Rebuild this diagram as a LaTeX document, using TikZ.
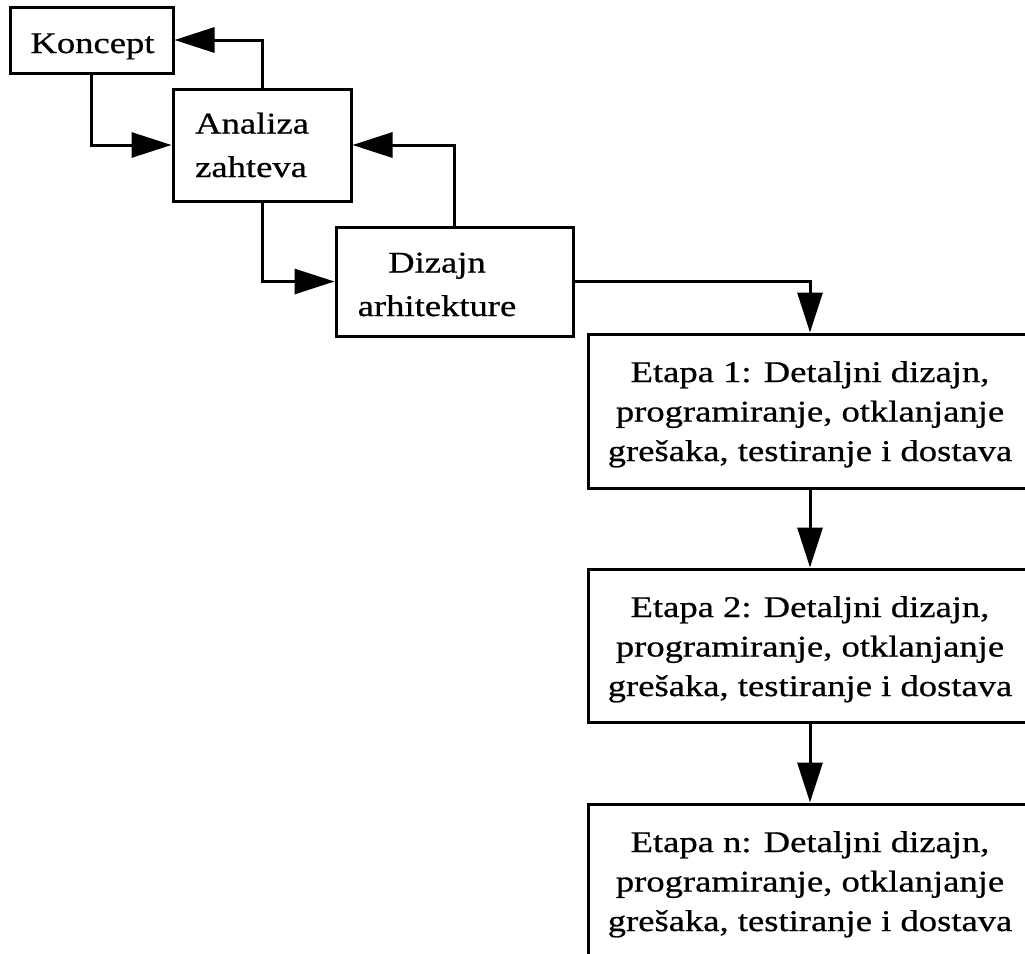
\documentclass[tikz,border=0pt]{standalone}
\usepackage{fontspec}
\setmainfont{Liberation Serif}[FakeStretch=1.22, FakeBold=0.7]
\usetikzlibrary{arrows.meta}

\tikzset{
  box/.style={draw, line width=3pt, rectangle, inner sep=0pt, line join=miter},
  lbl/.style={inner sep=0pt, font=\fontsize{30}{43.5}\selectfont},
  stagelbl/.style={inner sep=0pt, align=center, font=\fontsize{30}{39.5}\selectfont},
  arr/.style={line width=3pt, line join=miter, -{Triangle[length=40pt,width=25pt]}},
}

\begin{document}
\begin{tikzpicture}[x=1pt, y=-1pt]
  \useasboundingbox (0,0) rectangle (1025,953);

  % boxes
  \node[box, minimum width=163pt, minimum height=66pt]  (koncept) at (91.5,40) {};
  \node[box, minimum width=178pt, minimum height=112pt] (analiza) at (262,145) {};
  \node[box, minimum width=237pt, minimum height=109pt] (dizajn)  at (454.5,281.5) {};
  \node[box, minimum width=444pt, minimum height=154pt] (etapa1)  at (810,411) {};
  \node[box, minimum width=444pt, minimum height=153pt] (etapa2)  at (810,645.5) {};
  \node[box, minimum width=444pt, minimum height=154pt] (etapaN)  at (810,881) {};

  % labels (base anchor = baseline of the last line)
  \node[lbl, anchor=base] (tKoncept) at (92.5,53) {Koncept};
  \node[lbl, anchor=base west, align=left] (tAnaliza) at (195,177) {Analiza\\zahteva};
  \node[lbl, anchor=base, align=center] (tDizajn) at (437,316) {Dizajn\\arhitekture};
  \node[stagelbl, anchor=base] (tEtapa1) at (810,461)
    {Etapa 1: Detaljni dizajn,\\programiranje, otklanjanje\\grešaka, testiranje i dostava};
  \node[stagelbl, anchor=base] (tEtapa2) at (810,696)
    {Etapa 2: Detaljni dizajn,\\programiranje, otklanjanje\\grešaka, testiranje i dostava};
  \node[stagelbl, anchor=base] (tEtapaN) at (810,931)
    {Etapa n: Detaljni dizajn,\\programiranje, otklanjanje\\grešaka, testiranje i dostava};

  % connectors
  \draw[arr] (koncept.south) |- (analiza.west);
  \draw[arr] (analiza.north) |- (koncept.east);
  \draw[arr] (analiza.south) |- (dizajn.west);
  \draw[arr] (dizajn.north) |- (analiza.east);
  \draw[arr] (dizajn.east) -| (etapa1.north);
  \draw[arr] (etapa1.south) -- (etapa2.north);
  \draw[arr] (etapa2.south) -- (etapaN.north);
\end{tikzpicture}
\end{document}
